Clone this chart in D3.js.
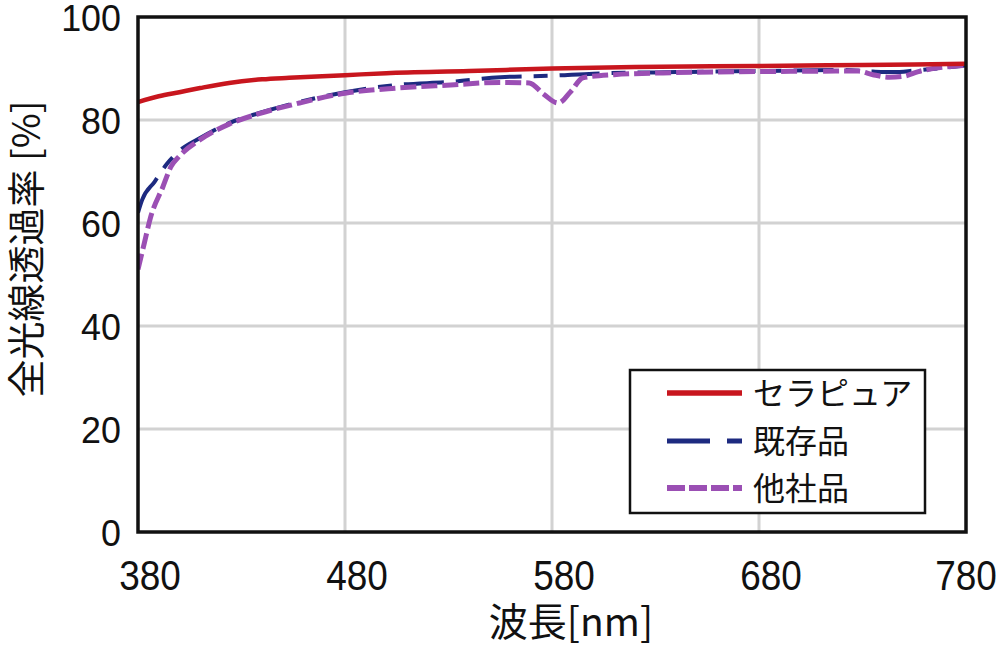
<!DOCTYPE html>
<html><head><meta charset="utf-8">
<script src="https://cdn.jsdelivr.net/npm/d3@7"></script>
<style>html,body{margin:0;padding:0;background:#fff;}svg{display:block;}</style>
</head><body>
<svg id="chart" width="1000" height="651"></svg>
<script>
// ---- data ----
const xTicks = [380, 480, 580, 680, 780];
const yTicks = [0, 20, 40, 60, 80, 100];
const seriesNames = ["セラピュア", "既存品", "他社品"];

const redWl  = [380, 390, 400, 410, 424, 440, 453, 480, 500, 540, 580, 620, 680, 730, 780];
const redVal = [83.5, 84.6, 85.4, 86.2, 87.2, 87.9, 88.2, 88.7, 89.1, 89.5, 90.0, 90.3, 90.5, 90.7, 90.9];

const blueWl  = [380, 382, 388, 394, 400, 410, 424, 439, 458, 480, 505, 531, 555, 580, 600, 640, 680, 720, 735, 745, 755, 780];
const blueVal = [62.0, 64.5, 68.0, 71.5, 74.0, 76.5, 79.4, 81.4, 83.5, 85.4, 86.8, 87.4, 88.3, 88.6, 89.0, 89.3, 89.5, 89.7, 89.4, 89.3, 89.6, 90.6];

const purpleWl  = [380, 383, 386, 392, 396, 400, 410, 424, 439, 458, 480, 505, 531, 555, 569, 576, 583, 589, 595, 610, 640, 680, 728, 735, 743, 750, 757, 780];
const purpleVal = [51.0, 56.0, 61.0, 67.0, 71.0, 73.0, 76.2, 79.2, 81.3, 83.3, 85.2, 86.2, 86.8, 87.3, 87.2, 85.0, 83.3, 85.5, 88.2, 88.8, 89.2, 89.4, 89.5, 88.8, 88.3, 88.5, 89.4, 90.6];

// ---- layout ----
const svg = d3.select("#chart");
const L = 138, R = 966, T = 17, B = 532;
const x = d3.scaleLinear().domain([380, 780]).range([L, R]);
const y = d3.scaleLinear().domain([0, 100]).range([B, T]);

svg.append("rect").attr("width", 1000).attr("height", 651).attr("fill", "#fff");

// grid
svg.append("g").selectAll("line.v").data(xTicks.slice(1, -1)).join("line")
  .attr("x1", d => x(d)).attr("x2", d => x(d)).attr("y1", T).attr("y2", B)
  .attr("stroke", "#d2d2d2").attr("stroke-width", 3);
svg.append("g").selectAll("line.h").data(yTicks.slice(1, -1)).join("line")
  .attr("x1", L).attr("x2", R).attr("y1", d => y(d)).attr("y2", d => y(d))
  .attr("stroke", "#d2d2d2").attr("stroke-width", 3);

// clip
svg.append("clipPath").attr("id", "clip").append("rect")
  .attr("x", L).attr("y", T).attr("width", R - L).attr("height", B - T);

const line = d3.line().x(d => x(d[0])).y(d => y(d[1])).curve(d3.curveMonotoneX);
const zip = (a, b) => a.map((v, i) => [v, b[i]]);

const styles = [
  {color: "#c8161e", width: 4.5, dash: null},
  {color: "#1d2a80", width: 4, dash: "40,12,14,12"},
  {color: "#9b4fb4", width: 5, dash: "16,5"}
];
const datasets = [zip(redWl, redVal), zip(blueWl, blueVal), zip(purpleWl, purpleVal)];
const g = svg.append("g").attr("clip-path", "url(#clip)");
[1, 2, 0].forEach(i => {
  g.append("path").datum(datasets[i]).attr("d", line)
    .attr("fill", "none").attr("stroke", styles[i].color)
    .attr("stroke-width", styles[i].width)
    .attr("stroke-dasharray", styles[i].dash);
});

// frame
svg.append("rect").attr("x", L).attr("y", T).attr("width", R - L).attr("height", B - T)
  .attr("fill", "none").attr("stroke", "#111").attr("stroke-width", 3.5);

// tick labels
const tickFont = "'Liberation Sans', Arial, sans-serif";
svg.append("g").selectAll("text").data(xTicks).join("text")
  .attr("transform", d => `translate(${Math.min(x(d) + 12, 1000 - 34)},590) scale(0.88,1)`)
  .attr("text-anchor", "middle")
  .attr("font-family", tickFont).attr("font-size", 42).attr("fill", "#111")
  .text(d => d);
svg.append("g").selectAll("text").data(yTicks).join("text")
  .attr("transform", d => `translate(121,${y(d) + 1}) scale(0.97,1)`)
  .attr("dy", "0.36em").attr("text-anchor", "end")
  .attr("font-family", tickFont).attr("font-size", 37).attr("fill", "#111")
  .text(d => d);

const cjk = "'Noto Sans CJK JP', 'Noto Sans', sans-serif";
svg.append("text").attr("x", 571).attr("y", 622).attr("dy", "0.35em")
  .attr("text-anchor", "middle").attr("font-family", cjk).attr("font-size", 39).attr("fill", "#111")
  .text("波長[nm]");
svg.append("text").attr("transform", "translate(26,249) rotate(-90)").attr("dy", "0.36em")
  .attr("text-anchor", "middle").attr("font-family", cjk).attr("font-size", 38).attr("fill", "#111")
  .text("全光線透過率 [%]");

// legend
const lg = svg.append("g");
lg.append("rect").attr("x", 630).attr("y", 370).attr("width", 295).attr("height", 143)
  .attr("fill", "#fff").attr("stroke", "#111").attr("stroke-width", 2.5);
const rows = [393, 441, 488];
seriesNames.forEach((n, i) => {
  lg.append("line").attr("x1", 667).attr("x2", 742).attr("y1", rows[i]).attr("y2", rows[i])
    .attr("stroke", styles[i].color).attr("stroke-width", styles[i].width + 1)
    .attr("stroke-dasharray", i === 1 ? "43,17,15" : i === 2 ? "18,4" : null);
  lg.append("text").attr("x", 753).attr("y", rows[i]).attr("dy", "0.36em")
    .attr("font-family", cjk).attr("font-size", 32).attr("fill", "#111").text(n);
});
</script>
</body></html>
